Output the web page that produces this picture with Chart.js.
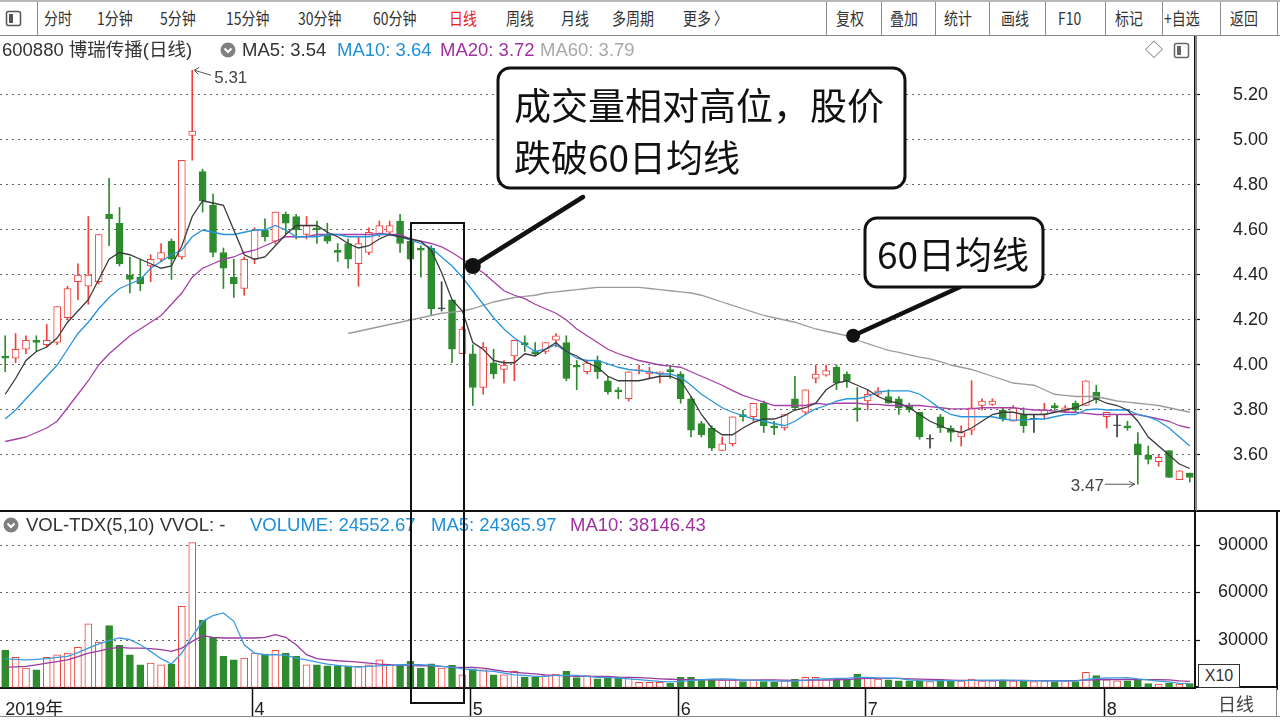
<!DOCTYPE html>
<html lang="zh-CN">
<head>
<meta charset="utf-8">
<title>600880 博瑞传播(日线)</title>
<script src="https://cdn.jsdelivr.net/npm/chart.js@4.4.1/dist/chart.umd.min.js"></script>
<style>
  html, body { margin: 0; padding: 0; background: #fff; }
  body { width: 1280px; height: 721px; position: relative; overflow: hidden;
         font-family: "Liberation Sans", Arial, "Noto Sans CJK SC", sans-serif; color: #333; }
  canvas { position: absolute; left: 0; }
  #toolbar { position: absolute; left: 0; top: 0; width: 1280px; height: 33px;
             border-top: 2px solid #b8b8b8; border-bottom: 1px solid #8c8c8c; }
  .tb { position: absolute; top: 5px; font-size: 17px; line-height: 22px; white-space: nowrap;
        font-family: "Noto Sans CJK SC", "Liberation Sans", sans-serif; color: #333;
        transform: scaleX(0.82); transform-origin: 0 50%; }
  .sep { position: absolute; top: 0; width: 1px; height: 33px; background: #8c8c8c; }
  .ttl { position: absolute; font-size: 18.5px; line-height: 20px; white-space: nowrap; }
  .line { position: absolute; background: #111; }
</style>
</head>
<body>
<div id="toolbar"></div>
<canvas id="price" width="1280" height="475" style="top:36px"></canvas>
<canvas id="volume" width="1280" height="210" style="top:511px"></canvas>
<div id="titles"></div>
<script>
// ===== 数据 =====
const opens = [
  4.04, 4.03, 4.07, 4.11, 4.09, 4.10, 4.21, 4.37, 4.35, 4.37,
  4.67, 4.63, 4.40, 4.39, 4.44, 4.47, 4.55, 4.48, 5.02, 4.86,
  4.71, 4.50, 4.39, 4.34, 4.47, 4.60, 4.55, 4.67, 4.66, 4.58,
  4.61, 4.58, 4.51, 4.54, 4.45, 4.50, 4.58, 4.59, 4.64, 4.55,
  4.52, 4.52, 4.25, 4.29, 4.05, 4.05, 3.90, 4.01, 3.98, 4.04,
  4.10, 4.06, 4.06, 4.11, 4.10, 4.00, 3.97, 4.02, 3.93, 3.89,
  3.85, 3.975, 3.96, 3.96, 3.98, 3.96, 3.85, 3.74, 3.72, 3.62,
  3.65, 3.78, 3.77, 3.83, 3.73, 3.72, 3.85, 3.79, 3.94, 3.955,
  3.99, 3.96, 3.81, 3.84, 3.87, 3.86, 3.85, 3.82, 3.79, 3.67,
  3.77, 3.72, 3.68, 3.71, 3.82, 3.825, 3.80, 3.75, 3.78, 3.76,
  3.78, 3.82, 3.795, 3.83, 3.82, 3.88, 3.77, 3.73, 3.73, 3.65,
  3.60, 3.57, 3.62, 3.49, 3.52
];
const highs = [
  4.13, 4.14, 4.13, 4.13, 4.18, 4.26, 4.35, 4.45, 4.66, 4.58,
  4.83, 4.70, 4.48, 4.47, 4.49, 4.54, 4.56, 4.91, 5.31, 4.87,
  4.76, 4.52, 4.47, 4.48, 4.61, 4.65, 4.68, 4.68, 4.67, 4.66,
  4.64, 4.63, 4.54, 4.56, 4.57, 4.61, 4.64, 4.64, 4.67, 4.57,
  4.53, 4.53, 4.37, 4.29, 4.17, 4.09, 4.10, 4.07, 4.02, 4.11,
  4.13, 4.10, 4.10, 4.14, 4.13, 4.02, 4.02, 4.04, 3.95, 3.90,
  3.97, 4.00, 3.99, 3.97, 4.00, 3.97, 3.86, 3.75, 3.73, 3.68,
  3.77, 3.80, 3.83, 3.84, 3.75, 3.78, 3.95, 3.89, 4.00, 4.00,
  4.00, 3.97, 3.90, 3.89, 3.90, 3.89, 3.86, 3.83, 3.79, 3.69,
  3.78, 3.73, 3.73, 3.93, 3.85, 3.85, 3.81, 3.82, 3.81, 3.78,
  3.83, 3.83, 3.82, 3.84, 3.93, 3.91, 3.79, 3.78, 3.75, 3.70,
  3.64, 3.60, 3.62, 3.53, 3.52
];
const lows = [
  3.97, 4.01, 4.05, 4.06, 4.08, 4.09, 4.20, 4.29, 4.27, 4.36,
  4.53, 4.44, 4.32, 4.33, 4.37, 4.46, 4.38, 4.47, 4.91, 4.68,
  4.48, 4.34, 4.30, 4.31, 4.45, 4.55, 4.54, 4.58, 4.56, 4.56,
  4.54, 4.54, 4.46, 4.43, 4.35, 4.49, 4.57, 4.58, 4.50, 4.46,
  4.39, 4.22, 4.24, 4.01, 4.05, 3.82, 3.87, 3.94, 3.92, 3.93,
  4.06, 4.04, 4.05, 4.08, 3.93, 3.89, 3.96, 3.94, 3.87, 3.85,
  3.84, 3.96, 3.94, 3.92, 3.94, 3.83, 3.68, 3.68, 3.62, 3.62,
  3.64, 3.75, 3.75, 3.70, 3.69, 3.71, 3.80, 3.78, 3.92, 3.95,
  3.89, 3.90, 3.75, 3.80, 3.86, 3.83, 3.78, 3.79, 3.67, 3.63,
  3.70, 3.66, 3.64, 3.69, 3.80, 3.82, 3.75, 3.75, 3.70, 3.70,
  3.76, 3.80, 3.79, 3.79, 3.82, 3.83, 3.72, 3.68, 3.71, 3.47,
  3.56, 3.55, 3.50, 3.49, 3.48
];
const closes = [
  4.03, 4.07, 4.11, 4.10, 4.11, 4.26, 4.34, 4.40, 4.40, 4.58,
  4.65, 4.45, 4.38, 4.36, 4.47, 4.50, 4.47, 4.91, 5.04, 4.73,
  4.50, 4.43, 4.36, 4.47, 4.60, 4.57, 4.68, 4.63, 4.60, 4.62,
  4.60, 4.55, 4.50, 4.47, 4.54, 4.59, 4.62, 4.62, 4.54, 4.47,
  4.51, 4.25, 4.25, 4.07, 4.16, 3.90, 4.08, 3.96, 4.00, 4.11,
  4.09, 4.05, 4.10, 4.13, 3.94, 3.99, 4.01, 3.97, 3.88, 3.88,
  3.97, 3.98, 3.97, 3.97, 3.97, 3.85, 3.71, 3.69, 3.63, 3.65,
  3.77, 3.77, 3.83, 3.73, 3.72, 3.78, 3.81, 3.89, 3.96, 3.975,
  3.92, 3.93, 3.80, 3.87, 3.885, 3.83, 3.81, 3.80, 3.68, 3.67,
  3.72, 3.70, 3.70, 3.81, 3.84, 3.84, 3.76, 3.81, 3.73, 3.76,
  3.80, 3.81, 3.81, 3.80, 3.93, 3.85, 3.79, 3.73, 3.72, 3.60,
  3.58, 3.59, 3.50, 3.53, 3.50
];
const ma5 = [
  3.87, 3.94, 4.02, 4.06, 4.08, 4.12, 4.19, 4.24, 4.29, 4.38,
  4.47, 4.50, 4.49, 4.47, 4.45, 4.43, 4.44, 4.53, 4.66, 4.73,
  4.72, 4.71, 4.60, 4.49, 4.47, 4.48, 4.53, 4.58, 4.62, 4.62,
  4.62, 4.59, 4.57, 4.54, 4.52, 4.53, 4.56, 4.58, 4.57, 4.56,
  4.55, 4.51, 4.41, 4.29, 4.24, 4.10, 4.07, 4.02, 4.01, 4.01,
  4.05, 4.04, 4.07, 4.10, 4.06, 4.04, 4.01, 3.99, 3.95, 3.93,
  3.93, 3.93, 3.94, 3.95, 3.95, 3.93, 3.86, 3.78, 3.72, 3.69,
  3.69, 3.72, 3.745, 3.76, 3.76, 3.775, 3.80, 3.81, 3.83, 3.89,
  3.92, 3.93, 3.91, 3.89, 3.86, 3.84, 3.83, 3.81, 3.78, 3.75,
  3.73, 3.71, 3.70, 3.72, 3.75, 3.78, 3.79, 3.79, 3.78, 3.78,
  3.78, 3.79, 3.80, 3.81, 3.83, 3.85, 3.83, 3.82, 3.80, 3.75,
  3.68, 3.64, 3.60, 3.56, 3.54
];
const ma10 = [
  3.76, 3.80, 3.85, 3.90, 3.95, 4.00, 4.07, 4.14, 4.19, 4.25,
  4.30, 4.34, 4.36, 4.38, 4.43, 4.46, 4.49, 4.51, 4.57, 4.60,
  4.59, 4.58, 4.58, 4.59, 4.60, 4.60, 4.62, 4.60, 4.57, 4.57,
  4.57, 4.58, 4.58, 4.57, 4.57, 4.57, 4.58, 4.58, 4.57, 4.555,
  4.54, 4.52, 4.48, 4.44, 4.39, 4.33, 4.27, 4.21, 4.16, 4.12,
  4.09, 4.06, 4.07, 4.09, 4.06, 4.03, 4.02, 4.02, 4.005, 3.99,
  3.98, 3.975, 3.97, 3.96, 3.96, 3.945, 3.91, 3.87, 3.84, 3.81,
  3.79, 3.775, 3.76, 3.75, 3.74, 3.73, 3.75, 3.78, 3.805, 3.82,
  3.84, 3.85, 3.85, 3.86, 3.88, 3.885, 3.885, 3.885, 3.87, 3.84,
  3.805, 3.78, 3.77, 3.77, 3.77, 3.77, 3.76, 3.755, 3.755, 3.76,
  3.76, 3.77, 3.78, 3.78, 3.80, 3.805, 3.80, 3.80, 3.80, 3.78,
  3.77, 3.75, 3.72, 3.68, 3.64
];
const ma20 = [
  3.66, 3.67, 3.68, 3.70, 3.72, 3.75, 3.81, 3.87, 3.93, 4.00,
  4.05, 4.09, 4.13, 4.16, 4.19, 4.22, 4.27, 4.32, 4.39, 4.43,
  4.45, 4.47, 4.48, 4.50, 4.51, 4.53, 4.55, 4.57, 4.57, 4.57,
  4.58, 4.58, 4.58, 4.58, 4.58, 4.58, 4.585, 4.58, 4.58, 4.56,
  4.55, 4.54, 4.525, 4.50, 4.47, 4.44, 4.41, 4.37, 4.33, 4.31,
  4.295, 4.27, 4.25, 4.23, 4.20, 4.16, 4.13, 4.10, 4.07, 4.05,
  4.035, 4.02, 4.01, 4.00, 3.995, 3.99, 3.97, 3.95, 3.93, 3.91,
  3.886, 3.865, 3.85, 3.835, 3.82, 3.82, 3.82, 3.82, 3.83, 3.825,
  3.83, 3.83, 3.83, 3.825, 3.825, 3.82, 3.82, 3.82, 3.82, 3.815,
  3.81, 3.805, 3.805, 3.805, 3.81, 3.81, 3.81, 3.81, 3.805, 3.80,
  3.80, 3.795, 3.79, 3.79, 3.785, 3.78, 3.78, 3.78, 3.78, 3.78,
  3.77, 3.76, 3.75, 3.73, 3.72
];
const ma60 = [
  null, null, null, null, null, null, null, null, null, null,
  null, null, null, null, null, null, null, null, null, null,
  null, null, null, null, null, null, null, null, null, null,
  null, null, null, 4.14, 4.15, 4.16, 4.17, 4.18, 4.19, 4.20,
  4.21, 4.22, 4.23, 4.235, 4.24, 4.25, 4.265, 4.28, 4.29, 4.30,
  4.305, 4.31, 4.32, 4.325, 4.33, 4.335, 4.34, 4.345, 4.345, 4.345,
  4.345, 4.345, 4.34, 4.335, 4.33, 4.325, 4.32, 4.31, 4.295, 4.28,
  4.265, 4.25, 4.235, 4.22, 4.21, 4.20, 4.19, 4.175, 4.16, 4.15,
  4.14, 4.13, 4.11, 4.095, 4.08, 4.065, 4.056, 4.045, 4.035, 4.027,
  4.015, 4.00, 3.99, 3.98, 3.965, 3.95, 3.935, 3.92, 3.915, 3.91,
  3.89, 3.87, 3.865, 3.86, 3.86, 3.86, 3.85, 3.84, 3.835, 3.83,
  3.825, 3.82, 3.81, 3.80, 3.79
];
const volumes = [
  23450, 19000, 12250, 11200, 19000, 20700, 21750, 25350, 40140, 28730,
  39080, 26620, 20700, 14370, 15420, 14370, 14790, 51340, 91480, 42460,
  31690, 19650, 17530, 18590, 21760, 21130, 23450, 21760, 19650, 14370,
  14370, 13730, 13730, 13730, 13310, 14370, 17530, 13940, 13730, 16480,
  12250, 15000, 12250, 13940, 8030, 11830, 11200, 8030, 8030, 10140,
  6550, 6550, 7600, 8450, 10140, 6340, 7600, 5490, 6550, 6550,
  6550, 3200, 3200, 3200, 2600, 6400, 6400, 4900, 4900, 4900,
  4900, 3800, 4900, 3800, 3200, 4250, 5300, 6400, 6400, 5300,
  4900, 4900, 8500, 6400, 5300, 4900, 4250, 4250, 4250, 3800,
  4900, 4250, 4250, 5300, 4250, 4250, 4900, 4250, 4250, 3800,
  4250, 3800, 4250, 3800, 9600, 7450, 4900, 4250, 4250, 5200,
  2500, 2200, 2800, 2200, 2455
];
const volMa5 = [
  18200, 17800, 17500, 17800, 18200, 19000, 19650, 22000, 24900, 27500,
  29600, 31270, 30200, 27000, 22800, 18200, 14800, 21750, 32300, 41800,
  45400, 47100, 41800, 27000, 21750, 20700, 20700, 20300, 18600, 17500,
  16000, 14800, 13940, 13300, 12900, 13300, 13700, 13940, 14370, 14370,
  14370, 13940, 13300, 12900, 11800, 11200, 10560, 10140, 9080, 8030,
  7600, 7000, 7000, 7600, 7600, 7600, 7000, 6340, 6340, 5900,
  5500, 5000, 4400, 3900, 3600, 3900, 4500, 4900, 5300, 5400,
  5300, 4700, 4600, 4400, 4100, 4000, 4000, 4700, 5200, 5500,
  5800, 5800, 6400, 6400, 6000, 5900, 5800, 4800, 4400, 4200,
  4300, 4300, 4200, 4500, 4600, 4600, 4600, 4600, 4400, 4300,
  4200, 4100, 4100, 4000, 5100, 5800, 6000, 6100, 6200, 5400,
  4800, 4000, 3500, 2650, 2437
];
const volMa10 = [
  12700, 13000, 13300, 14300, 15400, 16400, 17500, 19500, 21750, 23000,
  24500, 25350, 24900, 24900, 24500, 23870, 22800, 24900, 29150, 32750,
  31700, 31270, 31270, 31270, 31270, 31700, 33380, 31700, 27000, 20700,
  18170, 17500, 16900, 16480, 16050, 15420, 14800, 14370, 13940, 13940,
  13730, 13730, 13310, 12900, 12680, 12680, 12250, 11200, 10140, 9500,
  9080, 8660, 8030, 7600, 7400, 7000, 7000, 7000, 7000, 6550,
  6340, 6200, 5900, 5500, 5200, 5000, 5000, 4900, 4800, 4700,
  4600, 4600, 4700, 4800, 4800, 4700, 4500, 4500, 4600, 4700,
  4900, 5000, 5400, 5700, 5800, 5800, 5800, 5500, 5300, 5100,
  4900, 4700, 4500, 4500, 4400, 4400, 4400, 4400, 4500, 4400,
  4400, 4400, 4300, 4300, 4700, 4900, 5000, 5000, 5100, 5000,
  5000, 4900, 4800, 4200, 3815
];
const days = opens.map((_, i) => i);          // 交易日序号
const monthIdx = [0, 24, 45, 65, 83, 106];    // 各月第一根K线
const monthLabels = ['2019年', '4', '5', '6', '7', '8'];
const priceTicks = [3.6, 3.8, 4.0, 4.2, 4.4, 4.6, 4.8, 5.0, 5.2];
const volTicks = [30000, 60000, 90000];

// 注释锚点
const note1Anchor = { i: 45, v: ma20[45] };
const note2Anchor = { i: 81.6, v: 4.13 };

// ===== 颜色 =====
const RED = '#f0413c';
const GREEN = '#2e8b2e';
const DARK = '#3c3c3c';
const FONT = '"Liberation Sans", Arial, sans-serif';

function dir(i) { return closes[i] > opens[i] ? 1 : closes[i] < opens[i] ? -1 : 0; }
function kColor(i) { const d = dir(i); return d > 0 ? RED : d < 0 ? GREEN : DARK; }

// ===== 工具栏 & 标题 =====
const tbItems = [
  ['分时', 44], ['1分钟', 97], ['5分钟', 160], ['15分钟', 226], ['30分钟', 298], ['60分钟', 373],
  ['日线', 449, '#e8231c'], ['周线', 506], ['月线', 561], ['多周期', 612], ['更多 〉', 683],
  ['复权', 836], ['叠加', 890], ['统计', 944], ['画线', 1001], ['F10', 1058], ['标记', 1115],
  ['+自选', 1164], ['返回', 1230]
];
const tbSeps = [37, 826, 881, 935, 989, 1045, 1105, 1162, 1220, 1277];
const toolbar = document.getElementById('toolbar');
tbItems.forEach(([t, x, c]) => {
  const s = document.createElement('span');
  s.className = 'tb'; s.textContent = t; s.style.left = x + 'px';
  if (c) s.style.color = c;
  toolbar.appendChild(s);
});
tbSeps.forEach(x => {
  const d = document.createElement('div');
  d.className = 'sep'; d.style.left = x + 'px';
  toolbar.appendChild(d);
});
toolbar.insertAdjacentHTML('beforeend',
  '<svg style="position:absolute;left:5px;top:8px" width="18" height="18"><rect x="1.5" y="1.5" width="14" height="14" rx="2" fill="#fff" stroke="#555" stroke-width="1.5"/><rect x="4" y="4" width="4" height="9" fill="#555"/></svg>');

const titles = document.getElementById('titles');
function addText(t, x, y, c, size) {
  const s = document.createElement('span');
  s.className = 'ttl'; s.textContent = t;
  s.style.left = x + 'px'; s.style.top = y + 'px';
  if (c) s.style.color = c;
  if (size) s.style.fontSize = size + 'px';
  titles.appendChild(s);
}
const circIcon = (x, y) => `<svg style="position:absolute;left:${x}px;top:${y}px" width="16" height="16"><circle cx="8" cy="8" r="7.5" fill="#808080"/><polyline points="4.5,6.5 8,10 11.5,6.5" fill="none" stroke="#fff" stroke-width="2"/></svg>`;

addText('600880 博瑞传播(日线)', 2, 40, '#333');
titles.insertAdjacentHTML('beforeend', circIcon(220, 42));
addText('MA5: 3.54', 242, 40, '#333');
addText('MA10: 3.64', 337, 40, '#1f8fd8');
addText('MA20: 3.72', 440, 40, '#a0309f');
addText('MA60: 3.79', 540, 40, '#a8a8a8');
addText('◇', 1145, 40, '#777', 18);
titles.insertAdjacentHTML('beforeend',
  '<svg style="position:absolute;left:1173px;top:42px" width="18" height="18"><rect x="1.5" y="1.5" width="14" height="14" rx="2" fill="#fff" stroke="#666" stroke-width="1.5"/><rect x="4" y="4" width="4" height="9" fill="#666"/></svg>');

titles.insertAdjacentHTML('beforeend', circIcon(3, 517));
addText('VOL-TDX(5,10) VVOL: -', 26, 515, '#333');
addText('VOLUME: 24552.67', 250, 515, '#1f8fd8');
addText('MA5: 24365.97', 431, 515, '#1f8fd8');
addText('MA10: 38146.43', 570, 515, '#a0309f');

// 分隔线、右侧框
titles.insertAdjacentHTML('beforeend', `
  <div class="line" style="left:0;top:510px;width:1280px;height:2px"></div>
  <div class="line" style="left:1276px;top:511px;width:2px;height:179px"></div>
  <div class="line" style="left:1195px;top:686px;width:83px;height:2px"></div>
  <div class="line" style="left:1196px;top:36px;width:1px;height:475px;background:#888"></div>
  <div class="line" style="left:1276px;top:688px;width:1px;height:28px;background:#888"></div>
  <div class="line" style="left:0;top:716px;width:1280px;height:1px;background:#888"></div>
  <div style="position:absolute;left:1198px;top:664px;width:40px;height:22px;border:1px solid #333;font-size:16px;line-height:22px;text-align:center;background:#fff">X10</div>
  <span class="ttl" style="left:1218px;top:693px;font-size:18px;font-family:'Noto Sans CJK SC',sans-serif;color:#444">日线</span>
  <div style="position:absolute;left:410px;top:222px;width:55px;height:482px;border:2.5px solid #111;box-sizing:border-box"></div>
`);

// ===== 标注插件 =====
function roundBox(ctx, x, y, w, h, r) {
  ctx.beginPath();
  ctx.moveTo(x + r, y);
  ctx.arcTo(x + w, y, x + w, y + h, r);
  ctx.arcTo(x + w, y + h, x, y + h, r);
  ctx.arcTo(x, y + h, x, y, r);
  ctx.arcTo(x, y, x + w, y, r);
  ctx.closePath();
}

const priceNotes = {
  id: 'priceNotes',
  afterDraw(chart) {
    const { ctx, scales: { x, y } } = chart;
    ctx.save();

    // 最高 / 最低价标记
    const hi = highs.indexOf(Math.max(...highs));
    const lo = lows.indexOf(Math.min(...lows));
    const xh = x.getPixelForValue(hi), yh = y.getPixelForValue(highs[hi]);
    const xl = x.getPixelForValue(lo), yl = y.getPixelForValue(lows[lo]);
    ctx.strokeStyle = '#555'; ctx.lineWidth = 1;
    ctx.beginPath();
    ctx.moveTo(xh + 2, yh); ctx.lineTo(xh + 19, yh + 5);
    ctx.moveTo(xh + 2, yh); ctx.lineTo(xh + 7, yh - 3);
    ctx.moveTo(xh + 2, yh); ctx.lineTo(xh + 6, yh + 4);
    ctx.moveTo(xl - 33, yl); ctx.lineTo(xl - 3, yl);
    ctx.moveTo(xl - 3, yl); ctx.lineTo(xl - 9, yl - 3);
    ctx.moveTo(xl - 3, yl); ctx.lineTo(xl - 9, yl + 3);
    ctx.stroke();
    ctx.fillStyle = '#444';
    ctx.font = '17px ' + FONT;
    ctx.textBaseline = 'middle';
    ctx.textAlign = 'left';
    ctx.fillText(highs[hi].toFixed(2), xh + 22, yh + 8);
    ctx.textAlign = 'right';
    ctx.fillText(lows[lo].toFixed(2), xl - 34, yl + 2);

    // 说明框
    const callout = (bx, by, bw, bh, lines, tx, ty, lh, from, anchor, r) => {
      const ax = x.getPixelForValue(anchor.i), ay = y.getPixelForValue(anchor.v);
      ctx.strokeStyle = '#111'; ctx.lineCap = 'round';
      ctx.lineWidth = 4.5;
      ctx.beginPath(); ctx.moveTo(from[0], from[1]); ctx.lineTo(ax, ay); ctx.stroke();
      ctx.fillStyle = '#111';
      ctx.beginPath(); ctx.arc(ax, ay, r, 0, Math.PI * 2); ctx.fill();
      roundBox(ctx, bx, by, bw, bh, 12);
      ctx.fillStyle = '#fff'; ctx.fill();
      ctx.lineWidth = 3; ctx.stroke();
      ctx.fillStyle = '#111';
      ctx.font = '37px "Noto Sans CJK SC", sans-serif';
      ctx.textAlign = 'left'; ctx.textBaseline = 'middle';
      lines.forEach((t, k) => ctx.fillText(t, tx, ty + k * lh));
    };
    callout(498, 32, 407, 120, ['成交量相对高位，股价', '跌破60日均线'], 514, 70, 52, [583, 161], note1Anchor, 8);
    callout(865, 182, 178, 69, ['60日均线'], 877, 219, 0, [960, 251], note2Anchor, 7);
    ctx.restore();
  }
};

const monthLines = {
  id: 'monthLines',
  afterDraw(chart) {
    const { ctx, chartArea, scales: { x } } = chart;
    ctx.save();
    ctx.strokeStyle = '#111'; ctx.lineWidth = 1.5;
    monthIdx.slice(1).forEach(i => {
      const px = Math.round(x.getPixelForValue(i)) - 2.5;
      ctx.beginPath(); ctx.moveTo(px, chartArea.bottom); ctx.lineTo(px, chart.height - 5); ctx.stroke();
    });
    ctx.restore();
  }
};

// 右侧价格轴：固定宽度，去掉刻度文字带来的上下留白
const fitRight = s => { s.width = 85; s.paddingTop = 0; s.paddingBottom = 0; };

// ===== K线图 =====
const lineDs = (data, color, order) => ({
  type: 'line', data, borderColor: color, borderWidth: 1.3, pointRadius: 0,
  tension: 0, order, spanGaps: false
});

new Chart(document.getElementById('price'), {
  type: 'bar',
  data: {
    labels: days,
    datasets: [
      lineDs(ma5, '#3a3a3a', 0),
      lineDs(ma10, '#2795da', 0),
      lineDs(ma20, '#a63fa6', 0),
      lineDs(ma60, '#9c9c9c', 0),
      {
        type: 'bar', data: opens.map((o, i) => [o, closes[i]]), grouped: false, order: 5,
        barThickness: 7, minBarLength: 1, borderWidth: 1, borderSkipped: false,
        backgroundColor: c => dir(c.dataIndex) > 0 ? '#fff' : kColor(c.dataIndex),
        borderColor: c => kColor(c.dataIndex)
      },
      {
        type: 'bar', data: lows.map((l, i) => [l, highs[i]]), grouped: false, order: 6,
        barThickness: 1, borderWidth: 0,
        backgroundColor: c => kColor(c.dataIndex)
      }
    ]
  },
  options: {
    responsive: false, animation: false,
    layout: { padding: 0 },
    plugins: { legend: { display: false }, tooltip: { enabled: false } },
    scales: {
      x: { display: false, offset: true },
      y: {
        position: 'right', min: 3.3511, max: 5.4622,
        afterFit: fitRight,
        afterBuildTicks: s => { s.ticks = priceTicks.map(v => ({ value: v })); },
        ticks: { callback: v => Number(v).toFixed(2), font: { family: FONT, size: 18 }, color: '#222', padding: 33 },
        grid: { color: '#666', lineWidth: 1, tickColor: '#111', tickLength: 5, tickWidth: 1.2 },
        border: { display: true, color: '#111', width: 1.5, dash: [2, 4] }
      }
    }
  },
  plugins: [priceNotes]
});

// ===== 成交量 =====
new Chart(document.getElementById('volume'), {
  type: 'bar',
  data: {
    labels: days,
    datasets: [
      lineDs(volMa5, '#3d9be0', 0),
      lineDs(volMa10, '#9a3aa0', 0),
      {
        type: 'bar', data: volumes, grouped: false, order: 5,
        barThickness: 7, borderWidth: 1, borderSkipped: false,
        backgroundColor: c => dir(c.dataIndex) < 0 ? GREEN : '#fff',
        borderColor: c => dir(c.dataIndex) < 0 ? GREEN : RED
      }
    ]
  },
  options: {
    responsive: false, animation: false,
    layout: { padding: 0 },
    plugins: { legend: { display: false }, tooltip: { enabled: false } },
    scales: {
      x: {
        offset: true,
        afterFit: s => { s.height = 33.5; },
        ticks: {
          autoSkip: false, maxRotation: 0, align: 'start', padding: 4,
          font: { family: '"Liberation Sans", "Noto Sans CJK SC", sans-serif', size: 18 }, color: '#222',
          callback: (v, i) => { const k = monthIdx.indexOf(i); return k >= 0 ? monthLabels[k] : ''; }
        },
        grid: { display: false },
        border: { display: true, color: '#111', width: 2 }
      },
      y: {
        position: 'right', min: 0, max: 111474,
        afterFit: fitRight,
        afterBuildTicks: s => { s.ticks = volTicks.map(v => ({ value: v })); },
        ticks: { callback: v => String(v), font: { family: FONT, size: 18 }, color: '#222', padding: 18 },
        grid: { color: '#666', lineWidth: 1, tickColor: '#111', tickLength: 5, tickWidth: 1.2 },
        border: { display: true, color: '#111', width: 2, dash: [2, 4] }
      }
    }
  },
  plugins: [monthLines]
});
</script>
</body>
</html>
